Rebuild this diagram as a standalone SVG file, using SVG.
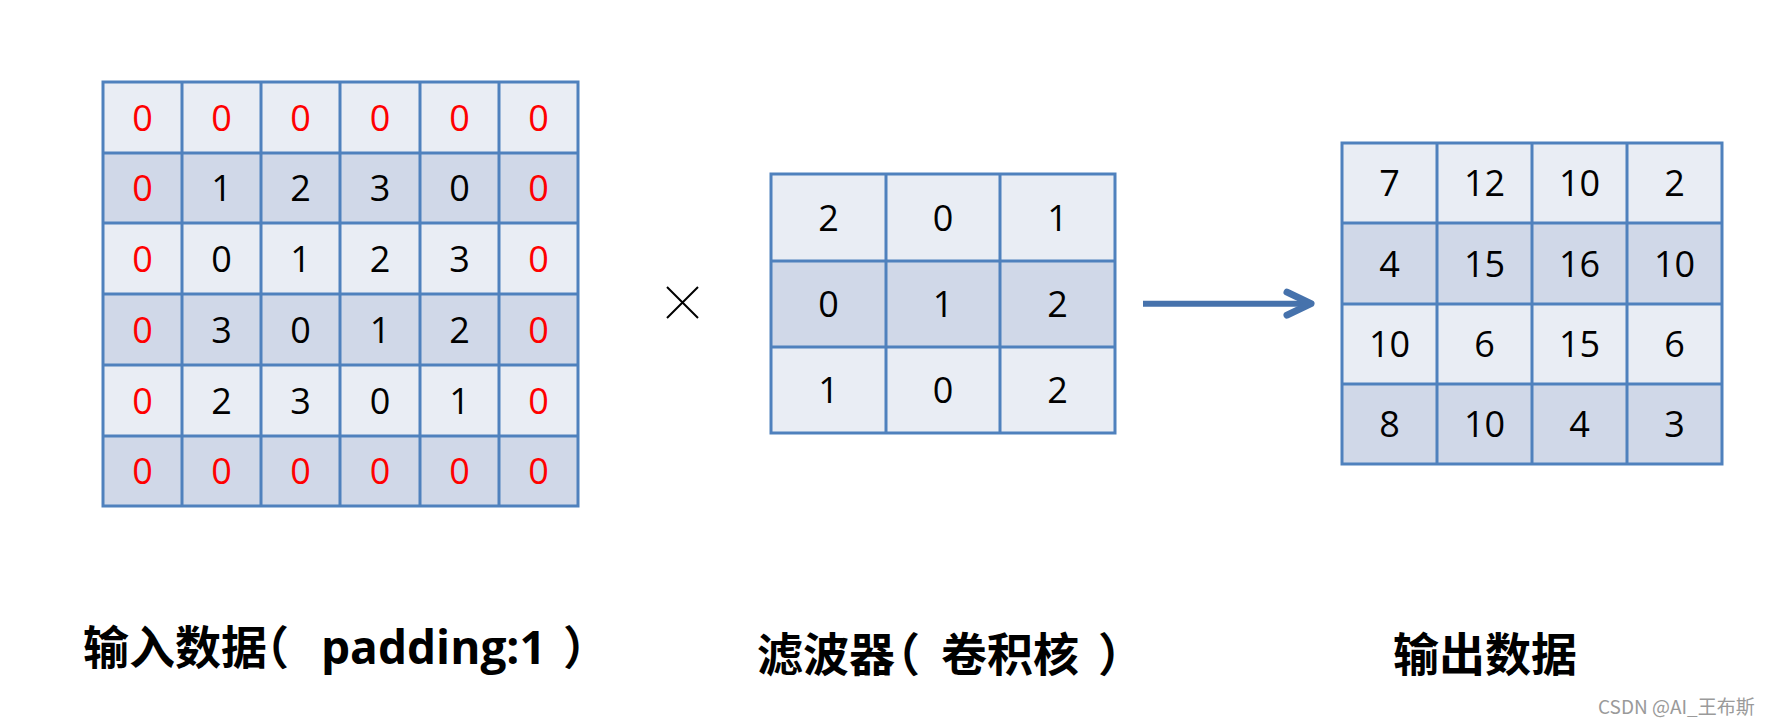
<svg xmlns="http://www.w3.org/2000/svg" width="1772" height="728" viewBox="0 0 1772 728">
<defs>
<style>
.lt{fill:#E9EDF4}
.dk{fill:#D0D8E8}
.gl{stroke:#4F81BD;stroke-width:3;fill:none;stroke-linecap:square}
.n{font-family:"Open Sans","Liberation Sans",sans-serif;font-size:36px;text-anchor:middle;fill:#000}
.r{fill:#FF0000}
.lbl{font-family:"Noto Sans CJK SC","Liberation Sans",sans-serif;font-weight:bold;font-size:46px;fill:#000}
.lat{font-family:"Open Sans","Liberation Sans",sans-serif;font-weight:bold}
.hp{font-feature-settings:"halt" 1}
.wm{font-family:"Noto Sans CJK SC","Open Sans",sans-serif;font-size:19px;fill:#9A9A9A}
</style>
<marker id="chev" markerUnits="userSpaceOnUse" viewBox="0 0 40 40" refX="30" refY="20" markerWidth="40" markerHeight="40" orient="auto">
<polyline points="6,8.5 30,20 6,31.5" fill="none" stroke="#4672AC" stroke-width="7" stroke-linecap="round" stroke-linejoin="round"/>
</marker>
</defs>
<rect width="1772" height="728" fill="#FFFFFF"/>

<g id="input-grid">
<rect class="lt" x="103" y="82" width="475" height="71"/>
<rect class="dk" x="103" y="153" width="475" height="70"/>
<rect class="lt" x="103" y="223" width="475" height="71"/>
<rect class="dk" x="103" y="294" width="475" height="71"/>
<rect class="lt" x="103" y="365" width="475" height="71"/>
<rect class="dk" x="103" y="436" width="475" height="70"/>
<path class="gl" d="M103,82H578M103,153H578M103,223H578M103,294H578M103,365H578M103,436H578M103,506H578M103,82V506M182,82V506M261,82V506M340,82V506M420,82V506M499,82V506M578,82V506"/>
<g class="n">
<text class="r" x="142.5" y="130.5">0</text><text class="r" x="221.5" y="130.5">0</text><text class="r" x="300.5" y="130.5">0</text><text class="r" x="380" y="130.5">0</text><text class="r" x="459.5" y="130.5">0</text><text class="r" x="538.5" y="130.5">0</text>
<text class="r" x="142.5" y="201">0</text><text x="221.5" y="201">1</text><text x="300.5" y="201">2</text><text x="380" y="201">3</text><text x="459.5" y="201">0</text><text class="r" x="538.5" y="201">0</text>
<text class="r" x="142.5" y="271.5">0</text><text x="221.5" y="271.5">0</text><text x="300.5" y="271.5">1</text><text x="380" y="271.5">2</text><text x="459.5" y="271.5">3</text><text class="r" x="538.5" y="271.5">0</text>
<text class="r" x="142.5" y="342.5">0</text><text x="221.5" y="342.5">3</text><text x="300.5" y="342.5">0</text><text x="380" y="342.5">1</text><text x="459.5" y="342.5">2</text><text class="r" x="538.5" y="342.5">0</text>
<text class="r" x="142.5" y="413.5">0</text><text x="221.5" y="413.5">2</text><text x="300.5" y="413.5">3</text><text x="380" y="413.5">0</text><text x="459.5" y="413.5">1</text><text class="r" x="538.5" y="413.5">0</text>
<text class="r" x="142.5" y="484">0</text><text class="r" x="221.5" y="484">0</text><text class="r" x="300.5" y="484">0</text><text class="r" x="380" y="484">0</text><text class="r" x="459.5" y="484">0</text><text class="r" x="538.5" y="484">0</text>
</g>
</g>

<g id="multiply">
<path d="M667,287L698,318M698,287L667,318" stroke="#000" stroke-width="2" fill="none"/>
</g>

<g id="kernel-grid">
<rect class="lt" x="771" y="174" width="344" height="87"/>
<rect class="dk" x="771" y="261" width="344" height="86"/>
<rect class="lt" x="771" y="347" width="344" height="86"/>
<path class="gl" d="M771,174H1115M771,261H1115M771,347H1115M771,433H1115M771,174V433M886,174V433M1000,174V433M1115,174V433"/>
<g class="n">
<text x="828.5" y="230.5">2</text><text x="943" y="230.5">0</text><text x="1057.5" y="230.5">1</text>
<text x="828.5" y="317">0</text><text x="943" y="317">1</text><text x="1057.5" y="317">2</text>
<text x="828.5" y="403">1</text><text x="943" y="403">0</text><text x="1057.5" y="403">2</text>
</g>
</g>

<g id="output-grid">
<rect class="lt" x="1342" y="143" width="380" height="80"/>
<rect class="dk" x="1342" y="223" width="380" height="81"/>
<rect class="lt" x="1342" y="304" width="380" height="80"/>
<rect class="dk" x="1342" y="384" width="380" height="80"/>
<path class="gl" d="M1342,143H1722M1342,223H1722M1342,304H1722M1342,384H1722M1342,464H1722M1342,143V464M1437,143V464M1532,143V464M1627,143V464M1722,143V464"/>
<g class="n">
<text x="1389.5" y="196">7</text><text x="1484.5" y="196">12</text><text x="1579.5" y="196">10</text><text x="1674.5" y="196">2</text>
<text x="1389.5" y="276.5">4</text><text x="1484.5" y="276.5">15</text><text x="1579.5" y="276.5">16</text><text x="1674.5" y="276.5">10</text>
<text x="1389.5" y="357">10</text><text x="1484.5" y="357">6</text><text x="1579.5" y="357">15</text><text x="1674.5" y="357">6</text>
<text x="1389.5" y="437">8</text><text x="1484.5" y="437">10</text><text x="1579.5" y="437">4</text><text x="1674.5" y="437">3</text>
</g>
</g>

<g id="connectors">
<path d="M1143,303.7H1311" stroke="#4672AC" stroke-width="6" fill="none" marker-end="url(#chev)"/>
</g>

<g id="label-input">
<text class="lbl" y="664"><tspan x="83">输入数据</tspan><tspan class="hp" x="266">（</tspan><tspan class="lat" x="321">padding:1</tspan><tspan class="hp" x="563">）</tspan></text>
</g>
<g id="label-kernel">
<text class="lbl" y="671"><tspan x="757">滤波器</tspan><tspan class="hp" x="897">（</tspan><tspan x="941">卷积核</tspan><tspan class="hp" x="1098">）</tspan></text>
</g>
<g id="label-output">
<text class="lbl" x="1393" y="671">输出数据</text>
</g>
<g id="watermark">
<text class="wm" x="1598" y="714">CSDN @AI_王布斯</text>
</g>
</svg>
